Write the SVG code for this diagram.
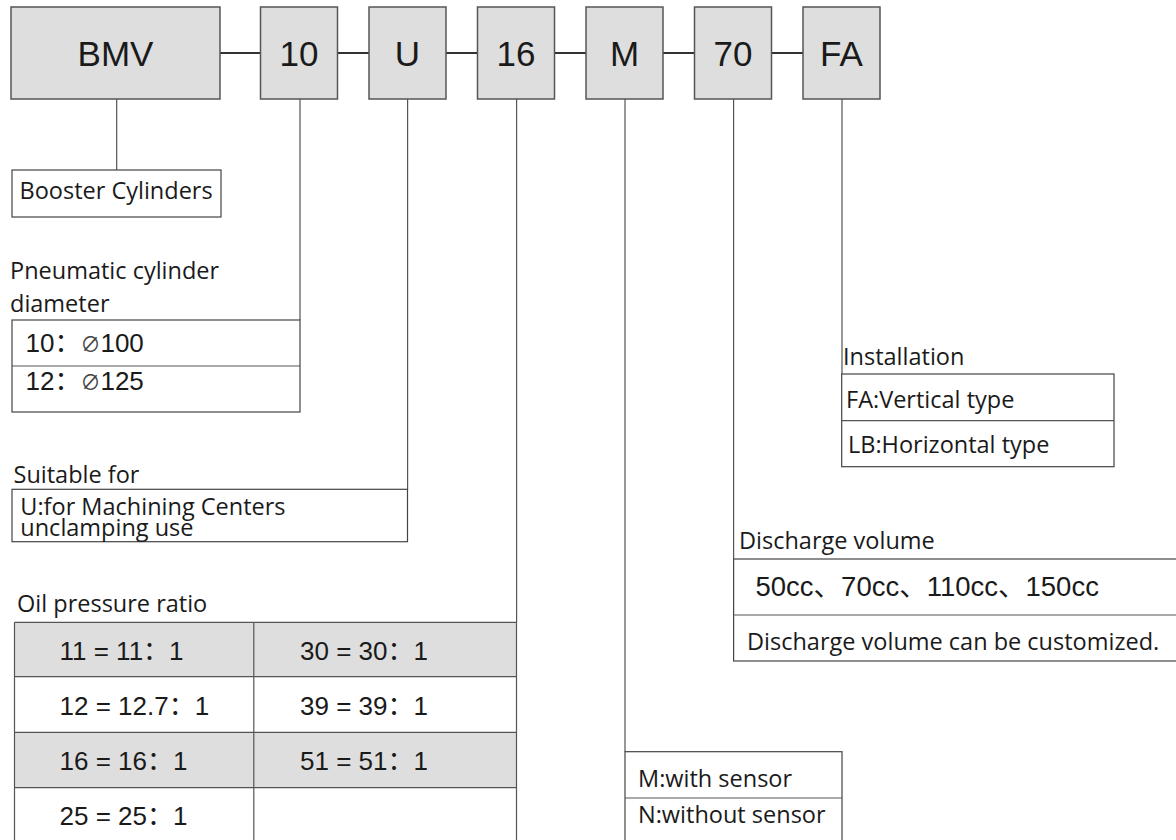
<svg xmlns="http://www.w3.org/2000/svg" width="1176" height="840" viewBox="0 0 1176 840">
<style>
.code{fill:#dedede;stroke:#555;stroke-width:1.5}
.box{fill:#fff;stroke:#444;stroke-width:1.2}
.gray{fill:#dedede;stroke:none}
.ln{stroke:#555;stroke-width:1.2;fill:none}
.hc{stroke:#333;stroke-width:2;fill:none}
.ct{font-family:"Liberation Sans",Arial,sans-serif;font-size:35px;fill:#1a1a1a;text-anchor:middle}
.lb{font-family:"Open Sans","Noto Sans",sans-serif;font-size:23.5px;fill:#1a1a1a}
.nm{font-family:"Liberation Sans",Arial,"Noto Sans CJK SC",sans-serif;font-size:26px;fill:#1a1a1a}
.dia{font-size:20px;fill:#444}
</style>
<rect width="1176" height="840" fill="#fff"/>
<g id="connectors">
<path class="hc" d="M220 53H260.5M337.5 53H369M446 53H477.5M554.5 53H586M663 53H694.5M771.5 53H803"/>
<path class="ln" d="M116.7 99V170M300 99V320M407.6 99V489.3M516.6 99V622.3M625 99V751.7M733.6 99V559M842 99V374"/>
</g>
<g id="n-bmv"><rect class="code" x="11" y="7" width="209" height="92"/><text class="ct" x="115.5" y="66">BMV</text></g>
<g id="n-10"><rect class="code" x="260.5" y="7" width="77" height="92"/><text class="ct" x="299" y="66">10</text></g>
<g id="n-u"><rect class="code" x="369" y="7" width="77" height="92"/><text class="ct" x="407.5" y="66">U</text></g>
<g id="n-16"><rect class="code" x="477.5" y="7" width="77" height="92"/><text class="ct" x="516" y="66">16</text></g>
<g id="n-m"><rect class="code" x="586" y="7" width="77" height="92"/><text class="ct" x="624.5" y="66">M</text></g>
<g id="n-70"><rect class="code" x="694.5" y="7" width="77" height="92"/><text class="ct" x="733" y="66">70</text></g>
<g id="n-fa"><rect class="code" x="803" y="7" width="77" height="92"/><text class="ct" x="841.5" y="66">FA</text></g>

<g id="d-booster">
<rect class="box" x="12" y="170" width="209" height="47"/>
<text class="lb" x="19.5" y="199">Booster Cylinders</text>
</g>
<g id="d-diameter">
<text class="lb" x="10" y="279">Pneumatic cylinder</text>
<text class="lb" x="10" y="311.7">diameter</text>
<rect class="box" x="12" y="320" width="288" height="92"/>
<path class="ln" d="M12 366H300"/>
<text class="nm" x="25.5" y="352">10：<tspan class="dia">∅</tspan>100</text>
<text class="nm" x="25.5" y="390">12：<tspan class="dia">∅</tspan>125</text>
</g>
<g id="d-suitable">
<text class="lb" x="13.5" y="483.3">Suitable for</text>
<rect class="box" x="12" y="489.3" width="395.5" height="52.4"/>
<text class="lb" x="20.3" y="514.5">U:for Machining Centers</text>
<text class="lb" x="20.3" y="535.5">unclamping use</text>
</g>
<g id="d-ratio">
<text class="lb" x="17" y="611.7">Oil pressure ratio</text>
<rect class="gray" x="14.5" y="622.3" width="502" height="54.4"/>
<rect class="gray" x="14.5" y="732.3" width="502" height="55.4"/>
<path class="ln" d="M14.5 622.3H516.5M14.5 676.7H516.5M14.5 732.3H516.5M14.5 787.7H516.5M14.5 622.3V845M253.8 622.3V845M516.5 622.3V845"/>
<text class="nm" x="59.5" y="660">11 = 11：1</text>
<text class="nm" x="300" y="660">30 = 30：1</text>
<text class="nm" x="59.5" y="715">12 = 12.7：1</text>
<text class="nm" x="300" y="715">39 = 39：1</text>
<text class="nm" x="59.5" y="770">16 = 16：1</text>
<text class="nm" x="300" y="770">51 = 51：1</text>
<text class="nm" x="59.5" y="825">25 = 25：1</text>
</g>
<g id="d-sensor">
<rect class="box" x="625" y="751.7" width="217" height="100"/>
<path class="ln" d="M625 798H842"/>
<text class="lb" x="638" y="787">M:with sensor</text>
<text class="lb" x="638" y="823">N:without sensor</text>
</g>
<g id="d-installation">
<text class="lb" x="843" y="365">Installation</text>
<rect class="box" x="841.7" y="374" width="272.3" height="92.7"/>
<path class="ln" d="M841.7 420.7H1114"/>
<text class="lb" x="846" y="408">FA:Vertical type</text>
<text class="lb" x="848" y="453">LB:Horizontal type</text>
</g>
<g id="d-discharge">
<text class="lb" x="739" y="549">Discharge volume</text>
<rect class="box" x="733.6" y="559" width="450" height="102"/>
<path class="ln" d="M733.6 615H1180"/>
<text class="nm" x="755.5" y="595.7" style="font-size:27.5px">50cc、70cc、110cc、150cc</text>
<text class="lb" x="747" y="650">Discharge volume can be customized.</text>
</g>
</svg>
